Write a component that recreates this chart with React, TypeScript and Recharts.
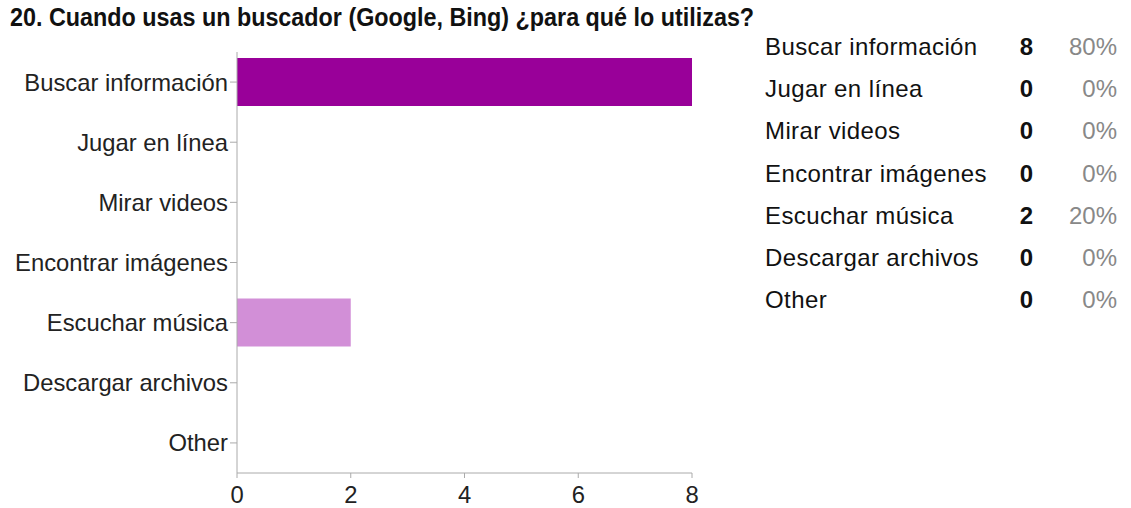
import { BarChart, Bar, XAxis, YAxis, Cell } from 'recharts';

// Datos de la pregunta 20
const categorias = [
  'Buscar información',
  'Jugar en línea',
  'Mirar videos',
  'Encontrar imágenes',
  'Escuchar música',
  'Descargar archivos',
  'Other',
];
const respuestas = [8, 0, 0, 0, 2, 0, 0];
const porcentajes = ['80%', '0%', '0%', '0%', '20%', '0%', '0%'];
const colores = ['#990099', '#990099', '#990099', '#990099', '#d28fd7', '#990099', '#990099'];
const ticksX = [0, 2, 4, 6, 8];

const titulo = '20. Cuando usas un buscador (Google, Bing) ¿para qué lo utilizas?';

const FONT = '"Liberation Sans", Arial, sans-serif';

export default function App() {
  const data = categorias.map((nombre, i) => ({ nombre, valor: respuestas[i] }));

  return (
    <div style={{ position: 'absolute', left: 0, top: 0, width: 1131, height: 508, background: '#fff', fontFamily: FONT }}>
      <div
        style={{
          position: 'absolute', left: 10, top: 3,
          fontFamily: '"Liberation Sans Narrow", "Arial Narrow", "Liberation Sans", sans-serif',
          fontWeight: 'bold', fontSize: 25.5, color: '#111', whiteSpace: 'nowrap',
          transform: 'scaleX(0.915)', transformOrigin: 'left top',
        }}
      >
        {titulo}
      </div>

      <div style={{ position: 'absolute', left: 0, top: 0 }}>
        <BarChart
          width={740}
          height={508}
          data={data}
          layout="vertical"
          margin={{ top: 52, right: 48, left: 0, bottom: 0 }}
        >
          <XAxis
            type="number"
            domain={[0, 8]}
            ticks={ticksX}
            stroke="#aaa"
            tickSize={5}
            tickMargin={8}
            height={35}
            tick={{ fill: '#222', fontSize: 23.8, fontFamily: FONT }}
          />
          <YAxis
            type="category"
            dataKey="nombre"
            width={237}
            stroke="#aaa"
            tickSize={7}
            tickMargin={2}
            interval={0}
            tick={{ fill: '#222', fontSize: 23.8, fontFamily: FONT }}
          />
          <Bar dataKey="valor" barSize={48} isAnimationActive={false}>
            {data.map((_, i) => (
              <Cell key={i} fill={colores[i]} />
            ))}
          </Bar>
        </BarChart>
      </div>

      <div style={{ position: 'absolute', left: 765, top: 26, width: 352 }}>
        {categorias.map((c, i) => (
          <div key={c} style={{ position: 'relative', height: 42.2, lineHeight: '42.2px', fontSize: 24, whiteSpace: 'nowrap' }}>
            <span style={{ color: '#111', letterSpacing: 0.4 }}>{c}</span>
            <span style={{ position: 'absolute', right: 84, top: 0, fontWeight: 'bold', color: '#111' }}>{respuestas[i]}</span>
            <span style={{ position: 'absolute', right: 0, top: 0, color: '#888' }}>{porcentajes[i]}</span>
          </div>
        ))}
      </div>
    </div>
  );
}
